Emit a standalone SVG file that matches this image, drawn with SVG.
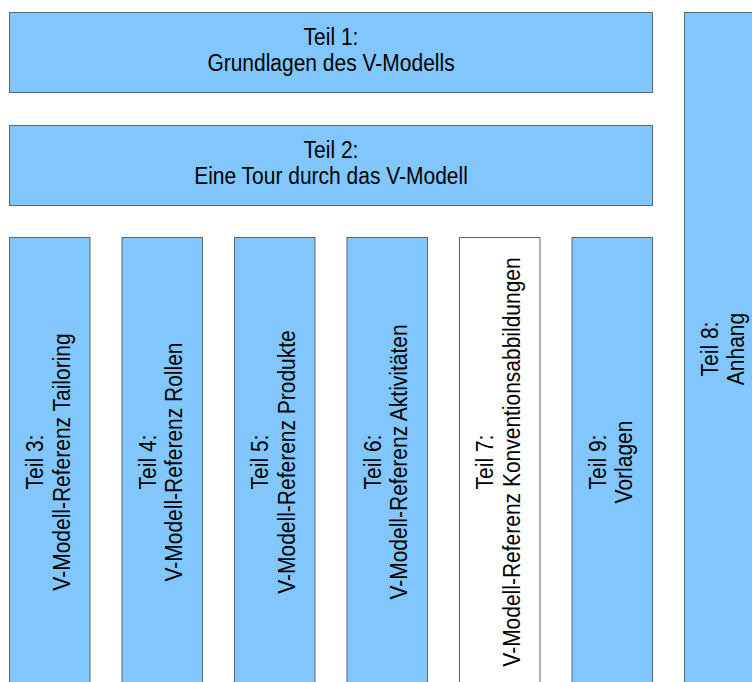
<svg xmlns="http://www.w3.org/2000/svg" width="752" height="682" viewBox="0 0 752 682">
<style>
.b{fill:#81c7fe;stroke:#5c6670;stroke-width:1}
.w{fill:#ffffff;stroke:#5c6670;stroke-width:1}
text{font-family:"Liberation Sans",Arial,sans-serif;font-size:21px;fill:#000;text-anchor:middle}
</style>
<rect x="0" y="0" width="752" height="682" fill="#ffffff"/>
<g id="teil1">
<rect class="b" x="9.5" y="12.5" width="643" height="80"/>
<g transform="translate(331,58) scale(1,1.15)"><text y="-11.5">Teil 1:</text><text y="11.5">Grundlagen des V-Modells</text></g>
</g>
<g id="teil2">
<rect class="b" x="9.5" y="125.5" width="643" height="80"/>
<g transform="translate(331,171) scale(1,1.15)"><text y="-11.5">Teil 2:</text><text y="11.5">Eine Tour durch das V-Modell</text></g>
</g>
<g id="teil3">
<rect class="b" x="9.5" y="237.5" width="80.5" height="460"/>
<g transform="translate(50,462) rotate(-90) scale(1,1.15)"><text y="-5.8">Teil 3:</text><text y="17">V-Modell-Referenz Tailoring</text></g>
</g>
<g id="teil4">
<rect class="b" x="122" y="237.5" width="80.5" height="460"/>
<g transform="translate(162.5,462) rotate(-90) scale(1,1.15)"><text y="-5.8">Teil 4:</text><text y="17">V-Modell-Referenz Rollen</text></g>
</g>
<g id="teil5">
<rect class="b" x="234.5" y="237.5" width="80.5" height="460"/>
<g transform="translate(275,462) rotate(-90) scale(1,1.15)"><text y="-5.8">Teil 5:</text><text y="17">V-Modell-Referenz Produkte</text></g>
</g>
<g id="teil6">
<rect class="b" x="347" y="237.5" width="80.5" height="460"/>
<g transform="translate(387.5,462) rotate(-90) scale(1,1.15)"><text y="-5.8">Teil 6:</text><text y="17">V-Modell-Referenz Aktivitäten</text></g>
</g>
<g id="teil7">
<rect class="w" x="459.5" y="237.5" width="80.5" height="460"/>
<g transform="translate(500,462) rotate(-90) scale(1,1.15)"><text y="-5.8">Teil 7:</text><text y="17">V-Modell-Referenz Konventionsabbildungen</text></g>
</g>
<g id="teil9">
<rect class="b" x="572" y="237.5" width="80.5" height="460"/>
<g transform="translate(612.5,462) rotate(-90) scale(1,1.15)"><text y="-5.8">Teil 9:</text><text y="17">Vorlagen</text></g>
</g>
<g id="teil8">
<rect class="b" x="684.5" y="12.5" width="80.5" height="685"/>
<g transform="translate(724.5,349) rotate(-90) scale(1,1.15)"><text y="-5.8">Teil 8:</text><text y="17">Anhang</text></g>
</g>
<g id="connectors"></g>
</svg>
